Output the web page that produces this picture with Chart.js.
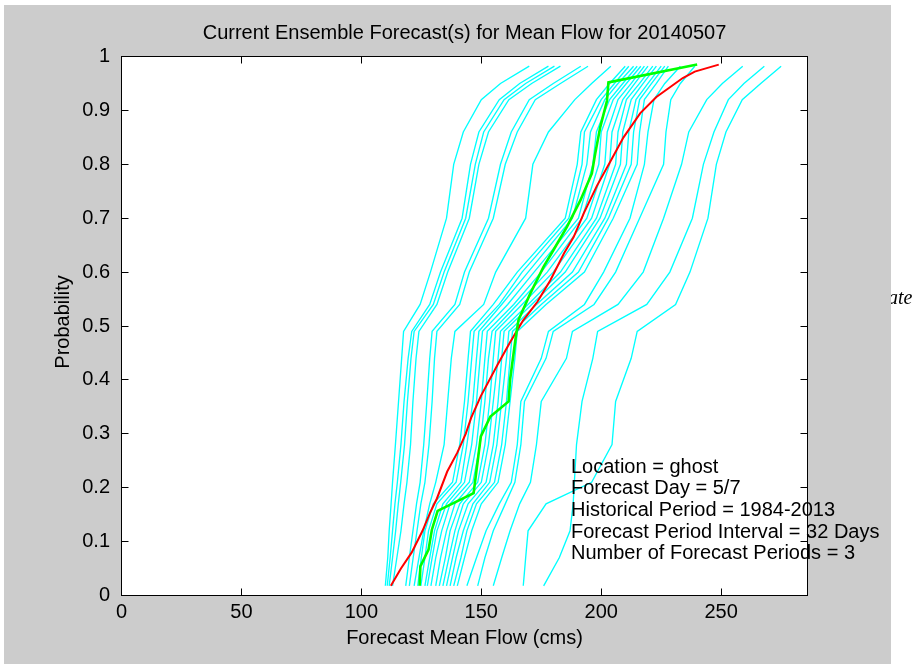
<!DOCTYPE html>
<html>
<head>
<meta charset="utf-8">
<script src="https://cdn.jsdelivr.net/npm/chart.js@4.4.1/dist/chart.umd.min.js"></script>
<style>
  html, body { margin: 0; padding: 0; background: #ffffff; }
  #wrap { position: relative; width: 913px; height: 664px; overflow: hidden; }
  #fig { position: absolute; left: 0; top: 0; }
</style>
</head>
<body>
<div id="wrap">
  <canvas id="fig" width="913" height="664"></canvas>
</div>
<script>
// Exceedance levels at which every ensemble trace is sampled
const probLevels = [0.018, 0.07, 0.12, 0.17, 0.21, 0.28, 0.36, 0.44, 0.49, 0.54, 0.6, 0.7, 0.8, 0.86, 0.92, 0.95, 0.982];

// Ensemble member traces: forecast mean flow (cms) at each level above
const trace01 = [110, 111, 111.6, 112.4, 113, 114.2, 115.5, 116.8, 117.6, 124.5, 128.8, 135.5, 138.5, 142.5, 150, 158, 170];
const trace02 = [110.8, 112, 113, 114, 115, 116.5, 117.8, 119.5, 121, 128.5, 133, 142, 145.5, 149, 157.5, 166, 178];
const trace03 = [111.6, 113, 114.3, 115.4, 116.4, 118, 119.2, 120.7, 122, 130, 134.5, 143.5, 147.5, 151, 159.5, 168.5, 180.5];
const trace04 = [113, 114.8, 116.5, 117.8, 119, 120.5, 121.5, 122.8, 124, 131.5, 136, 145, 149, 153, 161.5, 171, 183];
const trace05 = [118.5, 120, 121.5, 123, 124.5, 126, 127.3, 128.5, 129.5, 139, 143, 153, 158, 162.5, 170, 180, 191.5];
const trace06 = [120, 121.6, 123.2, 124.8, 126.5, 128.2, 129.5, 130.5, 131.5, 141, 145, 155, 160, 165, 172.5, 183, 194.5];
const trace07 = [122, 124, 126, 128.5, 131, 134.5, 136, 137.5, 139, 151, 156, 168.5, 171.5, 178, 189, 196, 204];
const trace08 = [123.5, 125, 126.5, 130, 138, 141, 143, 144.5, 145.5, 155, 165, 185, 190, 191.5, 198, 203.5, 210];
const trace09 = [124.8, 126.5, 128, 131.5, 139.5, 142.5, 144.5, 146, 147, 157.5, 167, 186.5, 192, 193, 200, 205.5, 211.5];
const trace10 = [126.5, 128.5, 130.5, 134, 141.5, 144, 146.5, 148, 149, 158.5, 169.5, 188, 194, 195.5, 201.5, 207, 213.5];
const trace11 = [127.5, 129.5, 131.5, 135.5, 143, 146, 148, 149.5, 150.5, 161, 172, 190.5, 196.5, 198, 203.5, 209, 215];
const trace12 = [129, 131, 133.5, 137, 145, 148, 150, 151.5, 152.5, 163.5, 175, 192, 199, 200, 205, 210.5, 216.5];
const trace13 = [131, 133, 135.5, 139, 146.5, 149.5, 151.5, 153, 154.5, 165, 177.5, 194, 201.5, 202.5, 207, 212.5, 218];
const trace14 = [132.5, 135, 137, 141, 148.5, 151.5, 153.5, 155, 156, 167, 180, 196, 203.5, 204.5, 209, 214, 219.5];
const trace15 = [134, 136.5, 139, 142.5, 150, 153, 155, 157, 158, 169.5, 183, 198, 206, 207, 210.5, 216, 221.5];
const trace16 = [135.5, 138, 140.5, 144.5, 152, 155, 157, 158.5, 159.5, 171, 185, 199.5, 208, 209, 212.5, 217.5, 223];
const trace17 = [137, 139.5, 142.5, 146.5, 153.5, 156.5, 158.5, 160.5, 161.5, 173, 188, 201.5, 210.5, 211.5, 214.5, 219.5, 225];
const trace18 = [138.5, 141.5, 144, 148, 155.5, 158.5, 160.5, 162, 163, 175, 190.5, 203, 212.5, 213.5, 216, 221, 226.5];
const trace19 = [140, 143, 146, 150, 157, 160, 162, 164, 165, 177, 193, 205, 215, 216, 218, 223, 228];
const trace20 = [144, 148, 152, 157.5, 162.5, 165, 166.5, 175, 178, 193, 201, 212, 218, 219.5, 222, 226.5, 233];
const trace21 = [148.5, 151.5, 155, 160, 164, 166.5, 168, 177, 180, 197, 206, 216, 226, 227, 229, 233, 239];
const trace22 = [155, 158.5, 162, 166, 170.5, 173, 175, 185.5, 188, 207, 217.5, 226, 233.5, 236.5, 244, 250.5, 259];
const trace23 = [176, 182.5, 187, 188.3, 188.8, 189.7, 192, 196.5, 198.5, 219, 228.6, 238, 242.6, 247, 253, 259.5, 268];
const trace24 = [167.5, 168.5, 169.5, 177, 196, 204.5, 206, 212.5, 215, 231, 237, 244.5, 248, 252, 258.8, 266.5, 275];

// Historical (climatological) distribution
const histProb = [0.018, 0.05, 0.08, 0.12, 0.155, 0.18, 0.23, 0.265, 0.3, 0.33, 0.37, 0.43, 0.47, 0.51, 0.545, 0.585, 0.635, 0.665, 0.71, 0.76, 0.805, 0.85, 0.895, 0.925, 0.96, 0.972, 0.985];
const histFlow = [112.3, 116.5, 121, 125.5, 128.8, 131.5, 135.8, 140, 143.5, 145.8, 149.8, 157, 162, 167.4, 173.4, 178.8, 184.5, 188.5, 192.8, 198.2, 203.8, 209.3, 216.3, 223, 234, 239, 249];

// Current forecast distribution
const fcstProb = [0.018, 0.054, 0.085, 0.122, 0.157, 0.19, 0.295, 0.332, 0.36, 0.4, 0.474, 0.511, 0.56, 0.61, 0.641, 0.684, 0.733, 0.783, 0.82, 0.869, 0.918, 0.952, 0.985];
const fcstFlow = [124.3, 124.6, 128, 129.4, 131.8, 146.8, 149.8, 153.8, 161.4, 162, 164.2, 165.5, 170.4, 176, 180.1, 185.7, 191.3, 196.1, 197.5, 199.6, 202.4, 203, 240];

// Axis ticks
const flowTicks = [0, 50, 100, 150, 200, 250];
const probTicks = [0, 0.1, 0.2, 0.3, 0.4, 0.5, 0.6, 0.7, 0.8, 0.9, 1];
const flowMax = 286;

// Texts
const chartTitle = 'Current Ensemble Forecast(s) for Mean Flow for 20140507';
const xTitle = 'Forecast Mean Flow (cms)';
const yTitle = 'Probability';
const infoLines = [
  'Location = ghost',
  'Forecast Day = 5/7',
  'Historical Period = 1984-2013',
  'Forecast Period Interval = 32 Days',
  'Number of Forecast Periods = 3'
];
const sideText = 'ate';

const ensembleTraces = [trace01, trace02, trace03, trace04, trace05, trace06, trace07, trace08,
  trace09, trace10, trace11, trace12, trace13, trace14, trace15, trace16, trace17, trace18,
  trace19, trace20, trace21, trace22, trace23, trace24];

const FONT = "'Liberation Sans', Arial, Helvetica, sans-serif";

function toPoints(flows, probs) {
  return flows.map((f, i) => ({ x: f, y: probs[i] }));
}

const datasets = [
  { label: 'forecast', data: toPoints(fcstFlow, fcstProb), borderColor: '#00ff00', borderWidth: 2.6 },
  { label: 'historical', data: toPoints(histFlow, histProb), borderColor: '#ff0000', borderWidth: 2 }
].concat(ensembleTraces.map((t, i) => ({
  label: 'member ' + (i + 1),
  data: toPoints(t, probLevels),
  borderColor: '#00ffff',
  borderWidth: 1.35
})));
datasets.forEach(d => { d.showLine = true; d.pointRadius = 0; d.pointHoverRadius = 0; d.tension = 0; d.fill = false; });

// Figure background, box frame with inward ticks, titles and info text
const figurePlugin = {
  id: 'figureFrame',
  beforeDraw(chart) {
    const { ctx, chartArea: a } = chart;
    ctx.save();
    ctx.fillStyle = '#000000';
    ctx.font = "italic 20px 'Liberation Serif', 'Times New Roman', serif";
    ctx.textAlign = 'left';
    ctx.textBaseline = 'alphabetic';
    ctx.fillText(sideText, 888, 304);
    ctx.fillStyle = '#cccccc';
    ctx.fillRect(4, 5, 887, 659);
    ctx.fillStyle = '#ffffff';
    ctx.fillRect(a.left, a.top, a.right - a.left, a.bottom - a.top);
    ctx.restore();
  },
  afterDatasetsDraw(chart) {
    const { ctx, chartArea: a, scales } = chart;
    const xs = scales.x, ys = scales.y;
    ctx.save();
    ctx.strokeStyle = '#000000';
    ctx.lineWidth = 1;
    ctx.strokeRect(a.left, a.top, a.right - a.left, a.bottom - a.top);
    const tl = 7;
    ctx.beginPath();
    xs.ticks.forEach(t => {
      const px = Math.floor(xs.getPixelForValue(t.value)) + 0.5;
      ctx.moveTo(px, a.bottom); ctx.lineTo(px, a.bottom - tl);
      ctx.moveTo(px, a.top); ctx.lineTo(px, a.top + tl);
    });
    ys.ticks.forEach(t => {
      const py = Math.floor(ys.getPixelForValue(t.value)) + 0.5;
      ctx.moveTo(a.left, py); ctx.lineTo(a.left + tl, py);
      ctx.moveTo(a.right, py); ctx.lineTo(a.right - tl, py);
    });
    ctx.stroke();

    ctx.fillStyle = '#000000';
    ctx.font = '20px ' + FONT;
    ctx.textBaseline = 'alphabetic';
    const cx = (a.left + a.right) / 2;
    ctx.textAlign = 'center';
    ctx.fillText(chartTitle, cx, 39);
    ctx.fillText(xTitle, cx, 644);
    ctx.save();
    ctx.translate(69, (a.top + a.bottom) / 2 - 4);
    ctx.rotate(-Math.PI / 2);
    ctx.fillText(yTitle, 0, 0);
    ctx.restore();

    ctx.textAlign = 'left';
    infoLines.forEach((s, i) => ctx.fillText(s, 571, 472.7 + i * 21.65));
    ctx.restore();
  }
};

new Chart(document.getElementById('fig'), {
  type: 'scatter',
  data: { datasets },
  options: {
    responsive: false,
    animation: false,
    devicePixelRatio: 1,
    layout: { padding: { left: 0, top: 56.5, right: 105.5, bottom: 0 } },
    plugins: { legend: { display: false }, tooltip: { enabled: false }, title: { display: false } },
    scales: {
      x: {
        type: 'linear',
        min: 0,
        max: flowMax,
        grid: { display: false, drawTicks: false },
        border: { display: false },
        ticks: { includeBounds: false, padding: 5, color: '#000', font: { family: FONT, size: 20 }, maxRotation: 0 },
        afterBuildTicks: s => { s.ticks = flowTicks.map(v => ({ value: v })); },
        afterFit: s => { s.height = 68.5; }
      },
      y: {
        type: 'linear',
        min: 0,
        max: 1,
        grid: { display: false, drawTicks: false },
        border: { display: false },
        ticks: { padding: 11.5, color: '#000', font: { family: FONT, size: 20 },
          callback: v => String(Math.round(v * 10) / 10) },
        afterBuildTicks: s => { s.ticks = probTicks.map(v => ({ value: v })); },
        afterFit: s => { s.width = 121.5; }
      }
    }
  },
  plugins: [figurePlugin]
});
</script>
</body>
</html>
